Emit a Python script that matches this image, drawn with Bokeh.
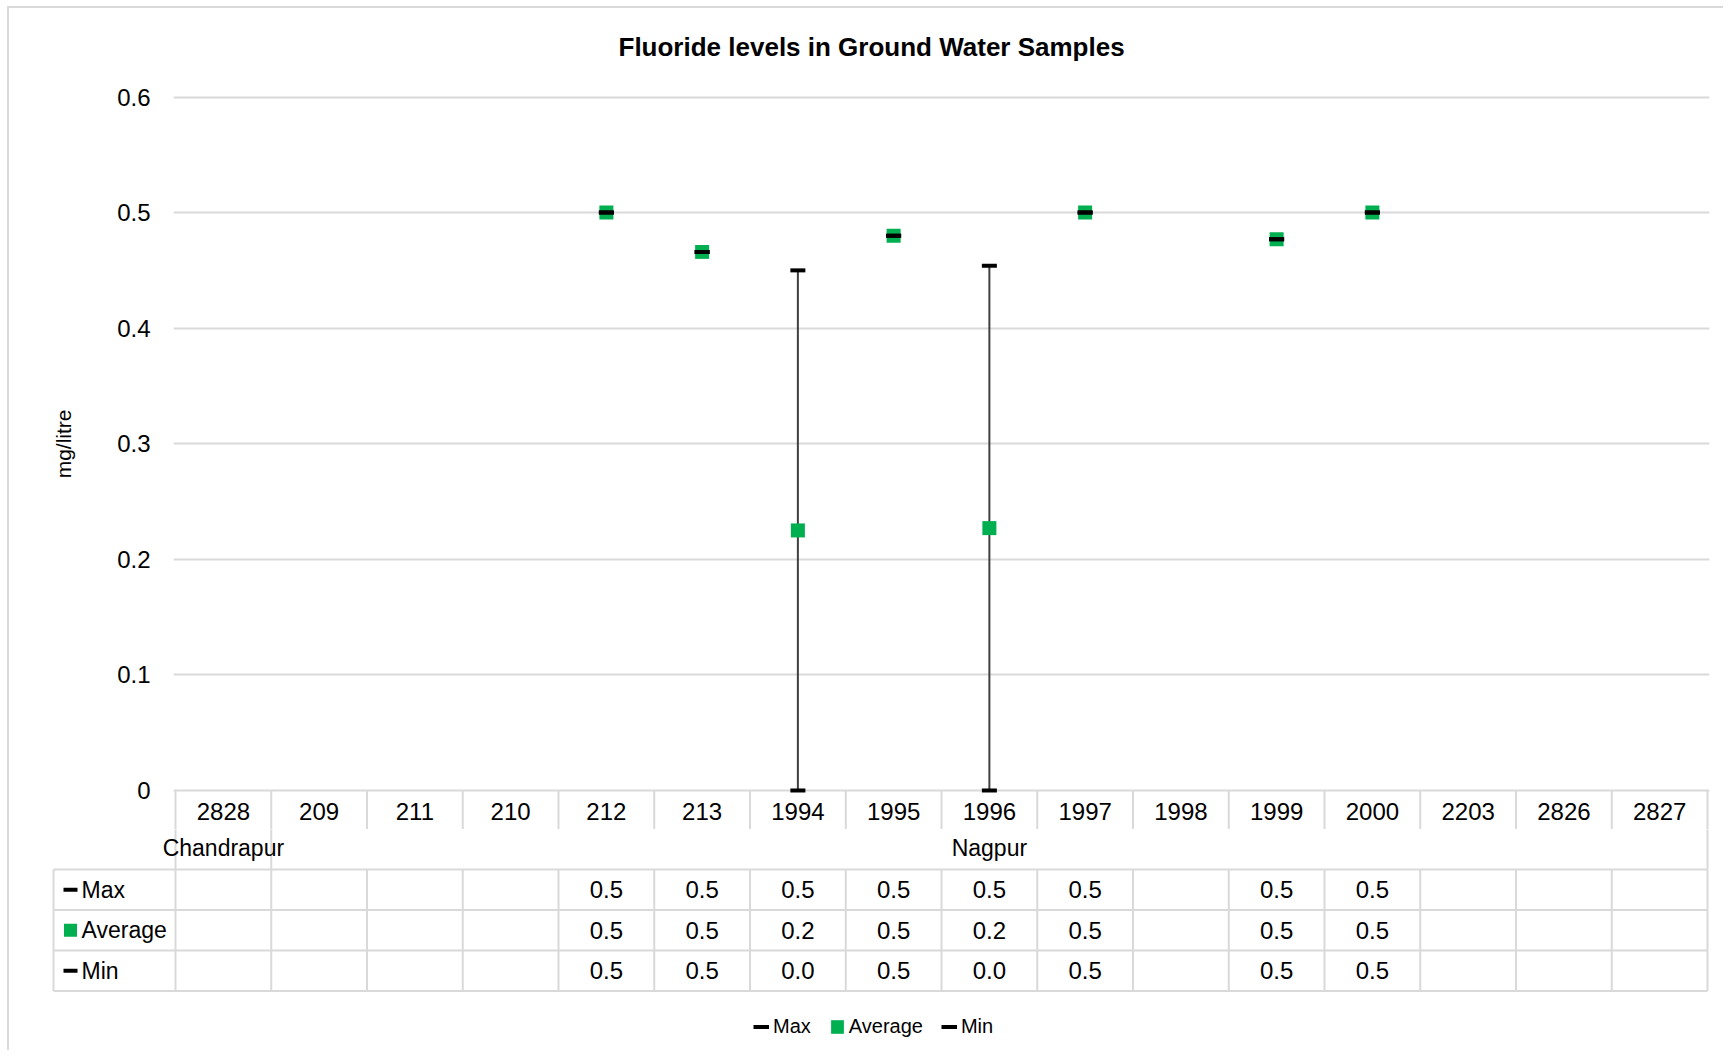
import numpy as np
from bokeh.plotting import figure
from bokeh.models import Range1d, FixedTicker, NumeralTickFormatter, Legend, LegendItem, Title
from bokeh.layouts import column
from bokeh.embed import file_html
from bokeh.resources import INLINE
from bokeh.core.properties import value

# ---------------- data ----------------
categories = ["2828", "209", "211", "210", "212", "213", "1994", "1995",
              "1996", "1997", "1998", "1999", "2000", "2203", "2826", "2827"]
districts = ["Chandrapur"] + ["Nagpur"] * 15
nan = float("nan")
max_vals = [nan, nan, nan, nan, 0.5, 0.466, 0.45, 0.48, 0.454, 0.5, nan, 0.477, 0.5, nan, nan, nan]
avg_vals = [nan, nan, nan, nan, 0.5, 0.466, 0.225, 0.48, 0.227, 0.5, nan, 0.477, 0.5, nan, nan, nan]
min_vals = [nan, nan, nan, nan, 0.5, 0.466, 0.0, 0.48, 0.0, 0.5, nan, 0.477, 0.5, nan, nan, nan]
series_names = ["Max", "Average", "Min"]
y_ticks = [0, 0.1, 0.2, 0.3, 0.4, 0.5, 0.6]
title_text = "Fluoride levels in Ground Water Samples"
y_label = "mg/litre"

# ---------------- style ----------------
FONT = "Liberation Sans"
GREEN = "#00b050"
GRID = "#d9d9d9"
TXT = "#000000"

n = len(categories)
xc = np.arange(n) + 0.5

W = 1714
COLW = 95.75          # px per category
PAD = 2 / COLW
PX = 1155.5           # px per mg/litre
TOP = 75              # space above the plot area
H1 = 821
H2 = 221
X0 = -(175 - 53) / COLW   # left edge of the table header column

# ================= chart + category labels =================
p1 = figure(width=W, height=H1, output_backend="svg", toolbar_location=None,
            x_range=Range1d(-PAD, n + PAD),
            y_range=Range1d(-39 / PX, 0.6 + 13.5 / PX),
            x_axis_location=None,
            min_border_left=164, min_border_right=14,
            min_border_top=TOP, min_border_bottom=0)
p1.outline_line_color = None
p1.background_fill_color = "white"
p1.border_fill_color = "white"

p1.add_layout(Title(text=title_text, align="left", offset=445, vertical_align="middle",
                    standoff=41, text_font=FONT, text_font_size="26px",
                    text_font_style="bold", text_color=TXT), "above")

ax = p1.yaxis[0]
ax.ticker = FixedTicker(ticks=y_ticks)
ax.formatter = NumeralTickFormatter(format="0.[0]")
ax.axis_line_color = None
ax.major_tick_line_color = None
ax.minor_tick_line_color = None
ax.major_tick_in = 0
ax.major_tick_out = 0
ax.major_label_standoff = 23
ax.major_label_text_font = FONT
ax.major_label_text_font_size = "24px"
ax.major_label_text_color = TXT

p1.add_layout(Title(text=y_label, align="right", offset=326, vertical_align="middle",
                    standoff=77, text_font=FONT, text_font_size="21px",
                    text_font_style="normal", text_color=TXT), "left")

p1.ygrid.grid_line_color = GRID
p1.ygrid.grid_line_width = 2
p1.xgrid.grid_line_color = None

# category separators (axis row)
bounds = np.arange(n + 1)
p1.segment(x0=bounds, y0=np.zeros(n + 1), x1=bounds, y1=np.full(n + 1, -0.05),
           line_color=GRID, line_width=2)
# category labels
p1.text(x=xc, y=np.full(n, -21 / PX), text=categories, text_font=value(FONT),
        text_font_size="24px", text_color=TXT, text_align="center", text_baseline="middle")

# high-low lines
p1.segment(x0=xc, y0=min_vals, x1=xc, y1=max_vals, line_color="#404040", line_width=2)
# average markers
p1.scatter(xc, avg_vals, marker="square", size=14, fill_color=GREEN, line_color=None)
# max / min markers
p1.scatter(xc, max_vals, marker="dash", size=15, line_color="black", line_width=4)
p1.scatter(xc, min_vals, marker="dash", size=15, line_color="black", line_width=4)

# ================= group labels + data table =================
p2 = figure(width=W, height=H2, output_backend="svg", toolbar_location=None,
            x_range=Range1d(-PAD, n + PAD),
            y_range=Range1d(H2, 0),
            x_axis_location=None, y_axis_location=None,
            min_border_left=164, min_border_right=14,
            min_border_top=0, min_border_bottom=0)
p2.outline_line_color = None
p2.xgrid.grid_line_color = None
p2.ygrid.grid_line_color = None
p2.background_fill_color = "white"
p2.border_fill_color = "white"

ROW_GRP = 18.5
TBL_TOP = 40.0
ROW_H = 40.5
row_lines = [TBL_TOP + k * ROW_H for k in range(len(series_names) + 1)]
row_mid = [TBL_TOP + (k + 0.5) * ROW_H for k in range(len(series_names))]
TBL_BOT = row_lines[-1]

# group boundaries from the district list
grp_bounds = [0] + [i for i in range(1, n) if districts[i] != districts[i - 1]] + [n]
grp_names = [districts[b] for b in grp_bounds[:-1]]
grp_centers = [(a + b) / 2 for a, b in zip(grp_bounds[:-1], grp_bounds[1:])]

gb = np.array(grp_bounds, dtype=float)
p2.segment(x0=gb, y0=np.full(len(gb), -2.0), x1=gb, y1=np.full(len(gb), TBL_TOP),
           line_color=GRID, line_width=2)
# table verticals
p2.segment(x0=bounds, y0=np.full(n + 1, TBL_TOP), x1=bounds, y1=np.full(n + 1, TBL_BOT),
           line_color=GRID, line_width=2)
# header column + horizontals (drawn over the left margin)
p2.segment(x0=[X0], y0=[TBL_TOP], x1=[X0], y1=[TBL_BOT], line_color=GRID, line_width=2,
           level="overlay")
p2.segment(x0=np.full(len(row_lines), X0), y0=row_lines, x1=np.full(len(row_lines), float(n)),
           y1=row_lines, line_color=GRID, line_width=2, level="overlay")

p2.text(x=grp_centers, y=np.full(len(grp_centers), ROW_GRP), text=grp_names, text_font=value(FONT),
        text_font_size="23px", text_color=TXT, text_align="center", text_baseline="middle",
        level="overlay")

def fmt(v):
    return "" if np.isnan(v) else "%.1f" % v

for k, vals in enumerate([max_vals, avg_vals, min_vals]):
    p2.text(x=xc, y=np.full(n, row_mid[k]), text=[fmt(v) for v in vals], text_font=value(FONT),
            text_font_size="24px", text_color=TXT, text_align="center", text_baseline="middle")

kx0 = X0 + 10 / COLW
kx1 = X0 + 24 / COLW
kxc = (kx0 + kx1) / 2
key_max = p2.segment(x0=[kx0], y0=[row_mid[0]], x1=[kx1], y1=[row_mid[0]], line_color="black",
                     line_width=4, level="overlay")
key_avg = p2.rect(x=[kxc], y=[row_mid[1]], width=13, height=13, width_units="screen",
                  height_units="screen", fill_color=GREEN, line_color=None, level="overlay")
key_min = p2.segment(x0=[kx0], y0=[row_mid[2]], x1=[kx1], y1=[row_mid[2]], line_color="black",
                     line_width=4, level="overlay")
p2.text(x=np.full(3, X0 + 28 / COLW), y=row_mid, text=series_names, text_font=value(FONT),
        text_font_size="23px", text_color=TXT, text_align="left", text_baseline="middle",
        level="overlay")

legend = Legend(items=[LegendItem(label=series_names[0], renderers=[key_max]),
                       LegendItem(label=series_names[1], renderers=[key_avg]),
                       LegendItem(label=series_names[2], renderers=[key_min])],
                location=(580, 12), orientation="horizontal")
legend.label_text_font = FONT
legend.label_text_font_size = "20px"
legend.label_text_color = TXT
legend.glyph_width = 16
legend.glyph_height = 17
legend.label_standoff = 4
legend.spacing = 18
legend.padding = 0
legend.margin = 0
legend.border_line_color = None
legend.background_fill_alpha = 0
p2.add_layout(legend)

layout = column(p1, p2, spacing=0,
                styles={"margin-left": "7px", "margin-top": "6px",
                        "border-left": "2px solid #d9d9d9", "border-top": "2px solid #d9d9d9"})

open("out.html", "w").write(file_html(layout, INLINE))
